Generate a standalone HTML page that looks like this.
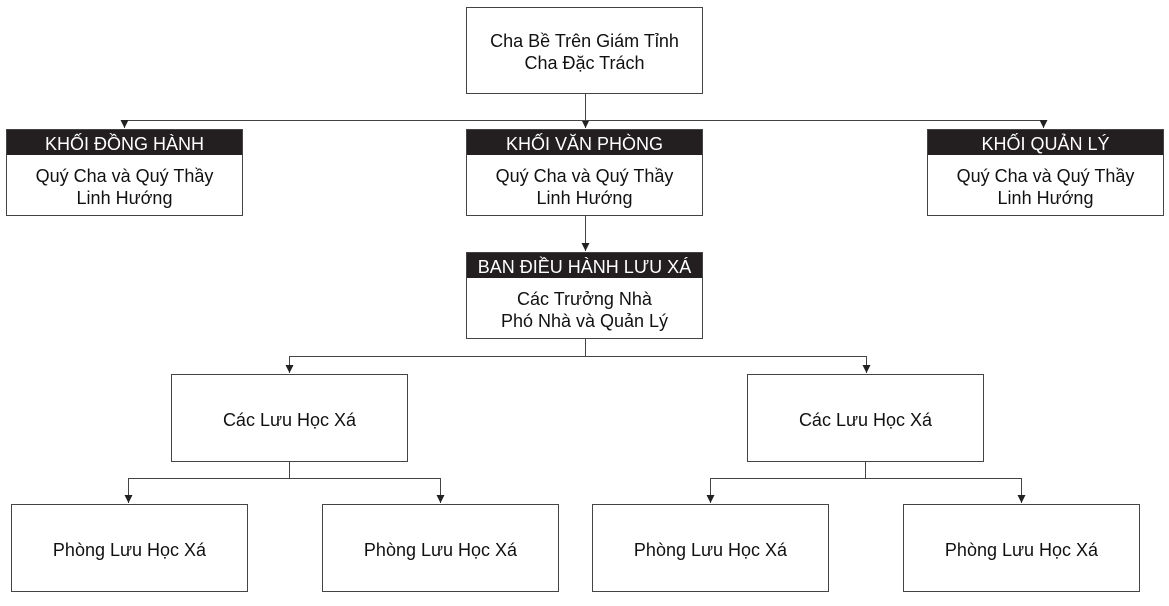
<!DOCTYPE html>
<html><head><meta charset="utf-8"><style>
body{margin:0;width:1169px;height:606px;background:#fff;position:relative;overflow:hidden;font-family:"Liberation Sans Narrow","Liberation Sans",sans-serif;color:#111}
.b{position:absolute;width:237px;height:86px;border:1px solid #444;box-sizing:border-box;background:#fff;display:flex;flex-direction:column}
.h{background:#231f20;color:#fff;height:25px;line-height:28px;text-align:center;font-size:18px}
.t{flex:1;display:flex;align-items:center;justify-content:center;text-align:center;font-size:18px;line-height:22px;padding-top:3px}
svg{position:absolute;left:0;top:0}
</style></head><body>
<svg width="1169" height="606">
<defs><marker id="a" markerWidth="8" markerHeight="8" refX="8" refY="4" orient="auto" markerUnits="userSpaceOnUse"><path d="M0,0 L8,4 L0,8z" fill="#222"/></marker></defs>
<g stroke="#444" stroke-width="1" fill="none">
<path d="M585.5 94V128" marker-end="url(#a)"/>
<path d="M124.5 120.5H1043.5V128" marker-end="url(#a)"/>
<path d="M124.5 120.5V128" marker-end="url(#a)"/>
<path d="M585.5 216V251" marker-end="url(#a)"/>
<path d="M585.5 339V356.5H289.5V373" marker-end="url(#a)"/>
<path d="M585.5 356.5H866.5V373" marker-end="url(#a)"/>
<path d="M289.5 461V478.5H128.5V503" marker-end="url(#a)"/>
<path d="M289.5 478.5H440.5V503" marker-end="url(#a)"/>
<path d="M865.5 461V478.5H710.5V503" marker-end="url(#a)"/>
<path d="M865.5 478.5H1021.5V503" marker-end="url(#a)"/>
</g></svg>
<div class="b" style="left:466px;top:7px;height:87px"><div class="t">Cha Bề Trên Giám Tỉnh<br>Cha Đặc Trách</div></div>
<div class="b" style="left:6px;top:129px;height:87px"><div class="h">KHỐI ĐỒNG HÀNH</div><div class="t">Quý Cha và Quý Thầy<br>Linh Hướng</div></div>
<div class="b" style="left:466px;top:129px;height:87px"><div class="h">KHỐI VĂN PHÒNG</div><div class="t">Quý Cha và Quý Thầy<br>Linh Hướng</div></div>
<div class="b" style="left:927px;top:129px;height:87px"><div class="h">KHỐI QUẢN LÝ</div><div class="t">Quý Cha và Quý Thầy<br>Linh Hướng</div></div>
<div class="b" style="left:466px;top:252px;height:87px"><div class="h">BAN ĐIỀU HÀNH LƯU XÁ</div><div class="t">Các Trưởng Nhà<br>Phó Nhà và Quản Lý</div></div>
<div class="b" style="left:171px;top:374px;height:88px"><div class="t">Các Lưu Học Xá</div></div>
<div class="b" style="left:747px;top:374px;height:88px"><div class="t">Các Lưu Học Xá</div></div>
<div class="b" style="left:11px;top:504px;height:88px"><div class="t">Phòng Lưu Học Xá</div></div>
<div class="b" style="left:322px;top:504px;height:88px"><div class="t">Phòng Lưu Học Xá</div></div>
<div class="b" style="left:592px;top:504px;height:88px"><div class="t">Phòng Lưu Học Xá</div></div>
<div class="b" style="left:903px;top:504px;height:88px"><div class="t">Phòng Lưu Học Xá</div></div>
</body></html>
